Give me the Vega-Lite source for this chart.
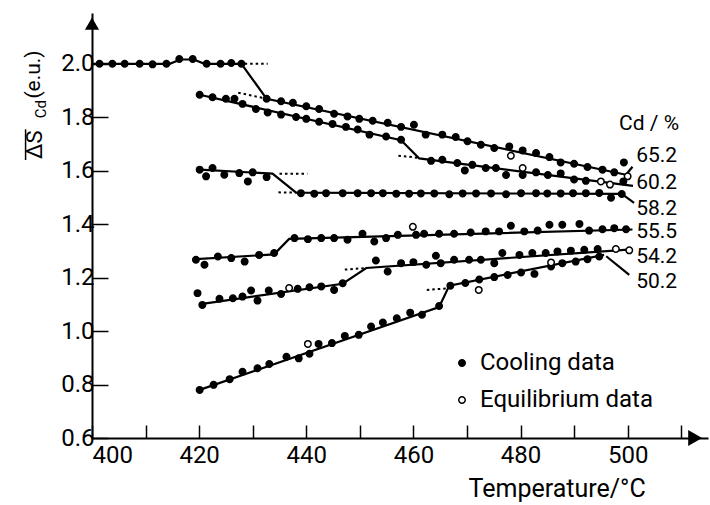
{
  "$schema": "https://vega.github.io/schema/vega-lite/v6.json",
  "width": 616,
  "height": 425,
  "autosize": "none",
  "padding": {"left": 92, "top": 13, "right": 2, "bottom": 67},
  "background": "white",
  "config": {
    "view": {"stroke": null},
    "font": "Roboto",
    "axis": {"grid": false, "domainColor": "black", "domainWidth": 2, "tickColor": "black", "tickWidth": 1.5, "labelColor": "black", "labelFont": "Roboto", "labelFontSize": 24, "titleFont": "Roboto", "titleColor": "black", "titleFontWeight": "normal"}
  },
  "datasets": {
    "pts": [
      {"s": "65.2", "x": 401.4, "y": 2.0, "type": "Cooling data"},
      {"s": "65.2", "x": 403.8, "y": 2.0, "type": "Cooling data"},
      {"s": "65.2", "x": 406.1, "y": 2.0, "type": "Cooling data"},
      {"s": "65.2", "x": 408.9, "y": 2.0, "type": "Cooling data"},
      {"s": "65.2", "x": 411.3, "y": 1.998, "type": "Cooling data"},
      {"s": "65.2", "x": 413.9, "y": 2.0, "type": "Cooling data"},
      {"s": "65.2", "x": 416.3, "y": 2.018, "type": "Cooling data"},
      {"s": "65.2", "x": 418.8, "y": 2.018, "type": "Cooling data"},
      {"s": "65.2", "x": 421.4, "y": 2.0, "type": "Cooling data"},
      {"s": "65.2", "x": 424.0, "y": 2.0, "type": "Cooling data"},
      {"s": "65.2", "x": 426.0, "y": 2.003, "type": "Cooling data"},
      {"s": "65.2", "x": 427.9, "y": 2.0, "type": "Cooling data"},
      {"s": "65.2", "x": 432.6, "y": 1.869, "type": "Cooling data"},
      {"s": "65.2", "x": 435.3, "y": 1.86, "type": "Cooling data"},
      {"s": "65.2", "x": 437.5, "y": 1.854, "type": "Cooling data"},
      {"s": "65.2", "x": 440.0, "y": 1.841, "type": "Cooling data"},
      {"s": "65.2", "x": 442.4, "y": 1.831, "type": "Cooling data"},
      {"s": "65.2", "x": 445.2, "y": 1.813, "type": "Cooling data"},
      {"s": "65.2", "x": 447.7, "y": 1.803, "type": "Cooling data"},
      {"s": "65.2", "x": 449.9, "y": 1.794, "type": "Cooling data"},
      {"s": "65.2", "x": 452.4, "y": 1.787, "type": "Cooling data"},
      {"s": "65.2", "x": 455.2, "y": 1.779, "type": "Cooling data"},
      {"s": "65.2", "x": 457.7, "y": 1.764, "type": "Cooling data"},
      {"s": "65.2", "x": 460.1, "y": 1.772, "type": "Cooling data"},
      {"s": "65.2", "x": 462.3, "y": 1.735, "type": "Cooling data"},
      {"s": "65.2", "x": 465.4, "y": 1.735, "type": "Cooling data"},
      {"s": "65.2", "x": 467.9, "y": 1.726, "type": "Cooling data"},
      {"s": "65.2", "x": 470.1, "y": 1.71, "type": "Cooling data"},
      {"s": "65.2", "x": 472.6, "y": 1.697, "type": "Cooling data"},
      {"s": "65.2", "x": 475.1, "y": 1.685, "type": "Cooling data"},
      {"s": "65.2", "x": 477.9, "y": 1.691, "type": "Cooling data"},
      {"s": "65.2", "x": 480.4, "y": 1.676, "type": "Cooling data"},
      {"s": "65.2", "x": 482.9, "y": 1.666, "type": "Cooling data"},
      {"s": "65.2", "x": 485.4, "y": 1.651, "type": "Cooling data"},
      {"s": "65.2", "x": 487.5, "y": 1.631, "type": "Cooling data"},
      {"s": "65.2", "x": 490.0, "y": 1.626, "type": "Cooling data"},
      {"s": "65.2", "x": 492.5, "y": 1.614, "type": "Cooling data"},
      {"s": "65.2", "x": 495.3, "y": 1.604, "type": "Cooling data"},
      {"s": "65.2", "x": 497.5, "y": 1.594, "type": "Cooling data"},
      {"s": "65.2", "x": 499.3, "y": 1.631, "type": "Cooling data"},
      {"s": "65.2", "x": 478.2, "y": 1.656, "type": "Equilibrium data"},
      {"s": "60.2", "x": 420.1, "y": 1.884, "type": "Cooling data"},
      {"s": "60.2", "x": 422.5, "y": 1.875, "type": "Cooling data"},
      {"s": "60.2", "x": 425.0, "y": 1.869, "type": "Cooling data"},
      {"s": "60.2", "x": 426.6, "y": 1.869, "type": "Cooling data"},
      {"s": "60.2", "x": 428.1, "y": 1.85, "type": "Cooling data"},
      {"s": "60.2", "x": 430.6, "y": 1.831, "type": "Cooling data"},
      {"s": "60.2", "x": 432.8, "y": 1.818, "type": "Cooling data"},
      {"s": "60.2", "x": 435.3, "y": 1.81, "type": "Cooling data"},
      {"s": "60.2", "x": 438.1, "y": 1.801, "type": "Cooling data"},
      {"s": "60.2", "x": 440.0, "y": 1.794, "type": "Cooling data"},
      {"s": "60.2", "x": 442.4, "y": 1.783, "type": "Cooling data"},
      {"s": "60.2", "x": 444.9, "y": 1.775, "type": "Cooling data"},
      {"s": "60.2", "x": 447.4, "y": 1.764, "type": "Cooling data"},
      {"s": "60.2", "x": 449.6, "y": 1.754, "type": "Cooling data"},
      {"s": "60.2", "x": 451.8, "y": 1.735, "type": "Cooling data"},
      {"s": "60.2", "x": 454.9, "y": 1.728, "type": "Cooling data"},
      {"s": "60.2", "x": 457.7, "y": 1.716, "type": "Cooling data"},
      {"s": "60.2", "x": 463.3, "y": 1.637, "type": "Cooling data"},
      {"s": "60.2", "x": 465.4, "y": 1.641, "type": "Cooling data"},
      {"s": "60.2", "x": 468.2, "y": 1.629, "type": "Cooling data"},
      {"s": "60.2", "x": 469.6, "y": 1.601, "type": "Cooling data"},
      {"s": "60.2", "x": 471.0, "y": 1.622, "type": "Cooling data"},
      {"s": "60.2", "x": 473.5, "y": 1.61, "type": "Cooling data"},
      {"s": "60.2", "x": 475.4, "y": 1.61, "type": "Cooling data"},
      {"s": "60.2", "x": 477.3, "y": 1.584, "type": "Cooling data"},
      {"s": "60.2", "x": 480.4, "y": 1.584, "type": "Cooling data"},
      {"s": "60.2", "x": 482.9, "y": 1.594, "type": "Cooling data"},
      {"s": "60.2", "x": 485.1, "y": 1.584, "type": "Cooling data"},
      {"s": "60.2", "x": 487.5, "y": 1.59, "type": "Cooling data"},
      {"s": "60.2", "x": 490.0, "y": 1.567, "type": "Cooling data"},
      {"s": "60.2", "x": 492.2, "y": 1.562, "type": "Cooling data"},
      {"s": "60.2", "x": 499.2, "y": 1.56, "type": "Cooling data"},
      {"s": "60.2", "x": 480.4, "y": 1.61, "type": "Equilibrium data"},
      {"s": "60.2", "x": 495.0, "y": 1.56, "type": "Equilibrium data"},
      {"s": "60.2", "x": 496.7, "y": 1.548, "type": "Equilibrium data"},
      {"s": "60.2", "x": 500.0, "y": 1.579, "type": "Equilibrium data"},
      {"s": "58.2", "x": 420.1, "y": 1.604, "type": "Cooling data"},
      {"s": "58.2", "x": 421.3, "y": 1.579, "type": "Cooling data"},
      {"s": "58.2", "x": 422.5, "y": 1.61, "type": "Cooling data"},
      {"s": "58.2", "x": 424.7, "y": 1.585, "type": "Cooling data"},
      {"s": "58.2", "x": 427.5, "y": 1.591, "type": "Cooling data"},
      {"s": "58.2", "x": 429.1, "y": 1.56, "type": "Cooling data"},
      {"s": "58.2", "x": 430.0, "y": 1.594, "type": "Cooling data"},
      {"s": "58.2", "x": 432.6, "y": 1.576, "type": "Cooling data"},
      {"s": "58.2", "x": 439.0, "y": 1.516, "type": "Cooling data"},
      {"s": "58.2", "x": 441.5, "y": 1.514, "type": "Cooling data"},
      {"s": "58.2", "x": 443.7, "y": 1.516, "type": "Cooling data"},
      {"s": "58.2", "x": 446.8, "y": 1.516, "type": "Cooling data"},
      {"s": "58.2", "x": 449.6, "y": 1.516, "type": "Cooling data"},
      {"s": "58.2", "x": 452.1, "y": 1.516, "type": "Cooling data"},
      {"s": "58.2", "x": 454.3, "y": 1.516, "type": "Cooling data"},
      {"s": "58.2", "x": 456.8, "y": 1.514, "type": "Cooling data"},
      {"s": "58.2", "x": 459.2, "y": 1.514, "type": "Cooling data"},
      {"s": "58.2", "x": 461.4, "y": 1.515, "type": "Cooling data"},
      {"s": "58.2", "x": 463.9, "y": 1.515, "type": "Cooling data"},
      {"s": "58.2", "x": 466.7, "y": 1.512, "type": "Cooling data"},
      {"s": "58.2", "x": 469.2, "y": 1.515, "type": "Cooling data"},
      {"s": "58.2", "x": 471.7, "y": 1.515, "type": "Cooling data"},
      {"s": "58.2", "x": 474.5, "y": 1.515, "type": "Cooling data"},
      {"s": "58.2", "x": 477.3, "y": 1.512, "type": "Cooling data"},
      {"s": "58.2", "x": 480.1, "y": 1.516, "type": "Cooling data"},
      {"s": "58.2", "x": 482.9, "y": 1.516, "type": "Cooling data"},
      {"s": "58.2", "x": 485.0, "y": 1.515, "type": "Cooling data"},
      {"s": "58.2", "x": 487.5, "y": 1.515, "type": "Cooling data"},
      {"s": "58.2", "x": 489.8, "y": 1.516, "type": "Cooling data"},
      {"s": "58.2", "x": 492.2, "y": 1.516, "type": "Cooling data"},
      {"s": "58.2", "x": 494.7, "y": 1.517, "type": "Cooling data"},
      {"s": "58.2", "x": 496.9, "y": 1.499, "type": "Cooling data"},
      {"s": "58.2", "x": 498.9, "y": 1.513, "type": "Cooling data"},
      {"s": "55.5", "x": 419.4, "y": 1.267, "type": "Cooling data"},
      {"s": "55.5", "x": 421.0, "y": 1.248, "type": "Cooling data"},
      {"s": "55.5", "x": 423.5, "y": 1.279, "type": "Cooling data"},
      {"s": "55.5", "x": 426.0, "y": 1.273, "type": "Cooling data"},
      {"s": "55.5", "x": 428.5, "y": 1.26, "type": "Cooling data"},
      {"s": "55.5", "x": 431.2, "y": 1.285, "type": "Cooling data"},
      {"s": "55.5", "x": 434.0, "y": 1.292, "type": "Cooling data"},
      {"s": "55.5", "x": 437.8, "y": 1.348, "type": "Cooling data"},
      {"s": "55.5", "x": 440.3, "y": 1.344, "type": "Cooling data"},
      {"s": "55.5", "x": 442.8, "y": 1.348, "type": "Cooling data"},
      {"s": "55.5", "x": 445.2, "y": 1.348, "type": "Cooling data"},
      {"s": "55.5", "x": 447.7, "y": 1.342, "type": "Cooling data"},
      {"s": "55.5", "x": 450.5, "y": 1.364, "type": "Cooling data"},
      {"s": "55.5", "x": 452.7, "y": 1.335, "type": "Cooling data"},
      {"s": "55.5", "x": 454.9, "y": 1.348, "type": "Cooling data"},
      {"s": "55.5", "x": 457.1, "y": 1.36, "type": "Cooling data"},
      {"s": "55.5", "x": 460.5, "y": 1.36, "type": "Cooling data"},
      {"s": "55.5", "x": 462.0, "y": 1.364, "type": "Cooling data"},
      {"s": "55.5", "x": 464.8, "y": 1.364, "type": "Cooling data"},
      {"s": "55.5", "x": 467.6, "y": 1.364, "type": "Cooling data"},
      {"s": "55.5", "x": 470.7, "y": 1.369, "type": "Cooling data"},
      {"s": "55.5", "x": 473.5, "y": 1.373, "type": "Cooling data"},
      {"s": "55.5", "x": 476.0, "y": 1.373, "type": "Cooling data"},
      {"s": "55.5", "x": 478.2, "y": 1.394, "type": "Cooling data"},
      {"s": "55.5", "x": 480.7, "y": 1.373, "type": "Cooling data"},
      {"s": "55.5", "x": 483.2, "y": 1.376, "type": "Cooling data"},
      {"s": "55.5", "x": 485.4, "y": 1.398, "type": "Cooling data"},
      {"s": "55.5", "x": 487.8, "y": 1.398, "type": "Cooling data"},
      {"s": "55.5", "x": 491.0, "y": 1.401, "type": "Cooling data"},
      {"s": "55.5", "x": 492.8, "y": 1.376, "type": "Cooling data"},
      {"s": "55.5", "x": 495.3, "y": 1.381, "type": "Cooling data"},
      {"s": "55.5", "x": 497.5, "y": 1.385, "type": "Cooling data"},
      {"s": "55.5", "x": 499.7, "y": 1.381, "type": "Cooling data"},
      {"s": "55.5", "x": 459.9, "y": 1.39, "type": "Equilibrium data"},
      {"s": "54.2", "x": 419.7, "y": 1.142, "type": "Cooling data"},
      {"s": "54.2", "x": 420.6, "y": 1.098, "type": "Cooling data"},
      {"s": "54.2", "x": 423.8, "y": 1.121, "type": "Cooling data"},
      {"s": "54.2", "x": 426.3, "y": 1.123, "type": "Cooling data"},
      {"s": "54.2", "x": 428.1, "y": 1.129, "type": "Cooling data"},
      {"s": "54.2", "x": 429.7, "y": 1.152, "type": "Cooling data"},
      {"s": "54.2", "x": 430.9, "y": 1.114, "type": "Cooling data"},
      {"s": "54.2", "x": 433.0, "y": 1.152, "type": "Cooling data"},
      {"s": "54.2", "x": 435.3, "y": 1.139, "type": "Cooling data"},
      {"s": "54.2", "x": 438.4, "y": 1.158, "type": "Cooling data"},
      {"s": "54.2", "x": 440.6, "y": 1.164, "type": "Cooling data"},
      {"s": "54.2", "x": 442.8, "y": 1.167, "type": "Cooling data"},
      {"s": "54.2", "x": 445.2, "y": 1.154, "type": "Cooling data"},
      {"s": "54.2", "x": 446.8, "y": 1.179, "type": "Cooling data"},
      {"s": "54.2", "x": 453.0, "y": 1.264, "type": "Cooling data"},
      {"s": "54.2", "x": 455.2, "y": 1.223, "type": "Cooling data"},
      {"s": "54.2", "x": 457.7, "y": 1.254, "type": "Cooling data"},
      {"s": "54.2", "x": 460.0, "y": 1.258, "type": "Cooling data"},
      {"s": "54.2", "x": 462.4, "y": 1.248, "type": "Cooling data"},
      {"s": "54.2", "x": 464.2, "y": 1.282, "type": "Cooling data"},
      {"s": "54.2", "x": 465.1, "y": 1.254, "type": "Cooling data"},
      {"s": "54.2", "x": 467.6, "y": 1.267, "type": "Cooling data"},
      {"s": "54.2", "x": 470.4, "y": 1.267, "type": "Cooling data"},
      {"s": "54.2", "x": 472.6, "y": 1.267, "type": "Cooling data"},
      {"s": "54.2", "x": 475.1, "y": 1.254, "type": "Cooling data"},
      {"s": "54.2", "x": 476.6, "y": 1.292, "type": "Cooling data"},
      {"s": "54.2", "x": 479.8, "y": 1.285, "type": "Cooling data"},
      {"s": "54.2", "x": 482.2, "y": 1.292, "type": "Cooling data"},
      {"s": "54.2", "x": 484.7, "y": 1.292, "type": "Cooling data"},
      {"s": "54.2", "x": 486.9, "y": 1.298, "type": "Cooling data"},
      {"s": "54.2", "x": 489.4, "y": 1.301, "type": "Cooling data"},
      {"s": "54.2", "x": 491.9, "y": 1.304, "type": "Cooling data"},
      {"s": "54.2", "x": 494.4, "y": 1.307, "type": "Cooling data"},
      {"s": "54.2", "x": 436.8, "y": 1.161, "type": "Equilibrium data"},
      {"s": "54.2", "x": 497.8, "y": 1.307, "type": "Equilibrium data"},
      {"s": "54.2", "x": 500.3, "y": 1.302, "type": "Equilibrium data"},
      {"s": "50.2", "x": 420.1, "y": 0.78, "type": "Cooling data"},
      {"s": "50.2", "x": 422.7, "y": 0.799, "type": "Cooling data"},
      {"s": "50.2", "x": 425.7, "y": 0.82, "type": "Cooling data"},
      {"s": "50.2", "x": 428.1, "y": 0.848, "type": "Cooling data"},
      {"s": "50.2", "x": 430.9, "y": 0.861, "type": "Cooling data"},
      {"s": "50.2", "x": 433.1, "y": 0.877, "type": "Cooling data"},
      {"s": "50.2", "x": 436.3, "y": 0.904, "type": "Cooling data"},
      {"s": "50.2", "x": 438.6, "y": 0.898, "type": "Cooling data"},
      {"s": "50.2", "x": 440.6, "y": 0.915, "type": "Cooling data"},
      {"s": "50.2", "x": 442.3, "y": 0.952, "type": "Cooling data"},
      {"s": "50.2", "x": 444.8, "y": 0.955, "type": "Cooling data"},
      {"s": "50.2", "x": 447.2, "y": 0.982, "type": "Cooling data"},
      {"s": "50.2", "x": 449.8, "y": 0.986, "type": "Cooling data"},
      {"s": "50.2", "x": 452.1, "y": 1.017, "type": "Cooling data"},
      {"s": "50.2", "x": 454.3, "y": 1.032, "type": "Cooling data"},
      {"s": "50.2", "x": 456.9, "y": 1.048, "type": "Cooling data"},
      {"s": "50.2", "x": 459.4, "y": 1.069, "type": "Cooling data"},
      {"s": "50.2", "x": 461.6, "y": 1.061, "type": "Cooling data"},
      {"s": "50.2", "x": 464.8, "y": 1.094, "type": "Cooling data"},
      {"s": "50.2", "x": 466.9, "y": 1.17, "type": "Cooling data"},
      {"s": "50.2", "x": 469.7, "y": 1.18, "type": "Cooling data"},
      {"s": "50.2", "x": 472.3, "y": 1.193, "type": "Cooling data"},
      {"s": "50.2", "x": 475.1, "y": 1.202, "type": "Cooling data"},
      {"s": "50.2", "x": 477.6, "y": 1.21, "type": "Cooling data"},
      {"s": "50.2", "x": 480.1, "y": 1.219, "type": "Cooling data"},
      {"s": "50.2", "x": 482.6, "y": 1.214, "type": "Cooling data"},
      {"s": "50.2", "x": 485.7, "y": 1.242, "type": "Cooling data"},
      {"s": "50.2", "x": 487.8, "y": 1.254, "type": "Cooling data"},
      {"s": "50.2", "x": 490.3, "y": 1.26, "type": "Cooling data"},
      {"s": "50.2", "x": 492.5, "y": 1.269, "type": "Cooling data"},
      {"s": "50.2", "x": 494.7, "y": 1.279, "type": "Cooling data"},
      {"s": "50.2", "x": 440.3, "y": 0.952, "type": "Equilibrium data"},
      {"s": "50.2", "x": 472.2, "y": 1.154, "type": "Equilibrium data"},
      {"s": "50.2", "x": 485.7, "y": 1.257, "type": "Equilibrium data"}
    ],
    "fit": [
      {"seg": "A", "x": 400, "y": 2.0},
      {"seg": "A", "x": 414.5, "y": 2.0},
      {"seg": "A", "x": 416.5, "y": 2.016},
      {"seg": "A", "x": 419, "y": 2.016},
      {"seg": "A", "x": 421, "y": 2.0},
      {"seg": "A", "x": 427.9, "y": 2.0},
      {"seg": "A", "x": 432.6, "y": 1.869},
      {"seg": "A", "x": 499.7, "y": 1.585},
      {"seg": "LA", "x": 499.7, "y": 1.585},
      {"seg": "LA", "x": 500.9, "y": 1.615},
      {"seg": "B", "x": 420.1, "y": 1.884},
      {"seg": "B", "x": 457.7, "y": 1.714},
      {"seg": "B", "x": 461.1, "y": 1.646},
      {"seg": "B", "x": 501, "y": 1.543},
      {"seg": "C", "x": 420.1, "y": 1.604},
      {"seg": "C", "x": 433.7, "y": 1.589},
      {"seg": "C", "x": 438.1, "y": 1.518},
      {"seg": "C", "x": 498.9, "y": 1.513},
      {"seg": "LC", "x": 498.9, "y": 1.513},
      {"seg": "LC", "x": 501.2, "y": 1.48},
      {"seg": "D", "x": 419.4, "y": 1.269},
      {"seg": "D", "x": 434, "y": 1.287},
      {"seg": "D", "x": 436.8, "y": 1.345},
      {"seg": "D", "x": 500.9, "y": 1.38},
      {"seg": "E", "x": 420.6, "y": 1.102},
      {"seg": "E", "x": 446.8, "y": 1.177},
      {"seg": "E", "x": 451.2, "y": 1.236},
      {"seg": "E", "x": 500.8, "y": 1.306},
      {"seg": "F", "x": 420.1, "y": 0.78},
      {"seg": "F", "x": 464.8, "y": 1.09},
      {"seg": "F", "x": 466.7, "y": 1.17},
      {"seg": "F", "x": 495.6, "y": 1.285},
      {"seg": "LF", "x": 496, "y": 1.28},
      {"seg": "LF", "x": 500.3, "y": 1.21}
    ],
    "ext": [
      {"seg": "d1", "x": 428.5, "y": 2.0},
      {"seg": "d1", "x": 432.8, "y": 2.0},
      {"seg": "d2", "x": 427.3, "y": 1.892},
      {"seg": "d2", "x": 432.6, "y": 1.869},
      {"seg": "d3", "x": 457.2, "y": 1.656},
      {"seg": "d3", "x": 461.1, "y": 1.648},
      {"seg": "d4", "x": 435.0, "y": 1.589},
      {"seg": "d4", "x": 440.2, "y": 1.589},
      {"seg": "d5", "x": 434.8, "y": 1.519},
      {"seg": "d5", "x": 438.1, "y": 1.518},
      {"seg": "d6", "x": 447.2, "y": 1.23},
      {"seg": "d6", "x": 451.2, "y": 1.236},
      {"seg": "d7", "x": 462.5, "y": 1.154},
      {"seg": "d7", "x": 466.5, "y": 1.16}
    ],
    "labels": [
      {"x": 498.4, "y": 1.776, "text": "Cd / %"},
      {"x": 501.6, "y": 1.656, "text": "65.2"},
      {"x": 501.6, "y": 1.555, "text": "60.2"},
      {"x": 501.6, "y": 1.458, "text": "58.2"},
      {"x": 501.6, "y": 1.372, "text": "55.5"},
      {"x": 501.6, "y": 1.278, "text": "54.2"},
      {"x": 501.6, "y": 1.184, "text": "50.2"}
    ],
    "one": [{}]
  },
  "layer": [
    {
      "data": {"name": "fit"},
      "mark": {"type": "line", "color": "black", "strokeWidth": 2.2},
      "encoding": {
        "x": {"field": "x", "type": "quantitative", "scale": {"domain": [400, 515], "nice": false, "zero": false},
          "axis": {"values": [400, 410, 420, 430, 440, 450, 460, 470, 480, 490, 500, 510], "labelExpr": "datum.value % 20 === 0 ? datum.label : ''", "tickSize": -13, "labelPadding": 18, "title": "Temperature/°C", "titleFontSize": 25, "titleAnchor": "start", "titleX": 376, "titleY": 58, "titleBaseline": "alphabetic"}},
        "y": {"field": "y", "type": "quantitative", "scale": {"domain": [0.6, 2.19], "nice": false, "zero": false},
          "axis": {"values": [0.6, 0.8, 1.0, 1.2, 1.4, 1.6, 1.8, 2.0], "format": ".1f", "tickSize": -16, "labelPadding": 14, "title": null}},
        "detail": {"field": "seg"}
      }
    },
    {
      "data": {"name": "ext"},
      "mark": {"type": "line", "color": "black", "strokeWidth": 2, "strokeDash": [2.5, 3]},
      "encoding": {
        "x": {"field": "x", "type": "quantitative"},
        "y": {"field": "y", "type": "quantitative"},
        "detail": {"field": "seg"}
      }
    },
    {
      "data": {"name": "pts"},
      "mark": {"type": "point", "filled": true, "opacity": 1, "stroke": "black", "strokeWidth": 1.5, "shape": "circle", "size": 42},
      "encoding": {
        "x": {"field": "x", "type": "quantitative"},
        "y": {"field": "y", "type": "quantitative"},
        "fill": {"field": "type", "type": "nominal", "scale": {"domain": ["Cooling data", "Equilibrium data"], "range": ["black", "white"]},
          "legend": {"title": null, "orient": "none", "legendX": 358, "legendY": 338, "labelFont": "Roboto", "labelFontSize": 24, "labelColor": "black", "labelLimit": 400, "symbolType": "circle", "symbolSize": 42, "symbolStrokeColor": "black", "symbolStrokeWidth": 1.5, "labelOffset": 6, "rowPadding": 13, "symbolOpacity": 1}}
      }
    },
    {
      "data": {"name": "labels"},
      "mark": {"type": "text", "align": "left", "baseline": "middle", "font": "Roboto", "fontSize": 21, "color": "black"},
      "encoding": {
        "x": {"field": "x", "type": "quantitative"},
        "y": {"field": "y", "type": "quantitative"},
        "text": {"field": "text"}
      }
    },
    {
      "data": {"name": "one"},
      "mark": {"type": "point", "shape": "triangle-right", "filled": true, "color": "black", "opacity": 1, "size": 260},
      "encoding": {"x": {"datum": 512.6}, "y": {"datum": 0.6}}
    },
    {
      "data": {"name": "one"},
      "mark": {"type": "point", "shape": "triangle-up", "filled": true, "color": "black", "opacity": 1, "size": 200},
      "encoding": {"x": {"datum": 400}, "y": {"datum": 2.15}}
    },
    {
      "data": {"name": "one"},
      "mark": {"type": "text", "angle": 270, "align": "center", "baseline": "alphabetic", "font": "Roboto", "fontSize": 22, "color": "black"},
      "encoding": {"x": {"datum": 390.6}, "y": {"datum": 1.697}, "text": {"value": "ΔS"}}
    },
    {
      "data": {"name": "one"},
      "mark": {"type": "rule", "color": "black", "strokeWidth": 1.5},
      "encoding": {"x": {"datum": 387.6}, "y": {"datum": 1.64}, "y2": {"datum": 1.755}}
    },
    {
      "data": {"name": "one"},
      "mark": {"type": "text", "angle": 270, "align": "center", "baseline": "alphabetic", "font": "Roboto", "fontSize": 15, "color": "black"},
      "encoding": {"x": {"datum": 391.5}, "y": {"datum": 1.83}, "text": {"value": "Cd"}}
    },
    {
      "data": {"name": "one"},
      "mark": {"type": "text", "angle": 270, "align": "center", "baseline": "alphabetic", "font": "Roboto", "fontSize": 21, "color": "black"},
      "encoding": {"x": {"datum": 390.2}, "y": {"datum": 1.96}, "text": {"value": "(e.u.)"}}
    }
  ]
}
